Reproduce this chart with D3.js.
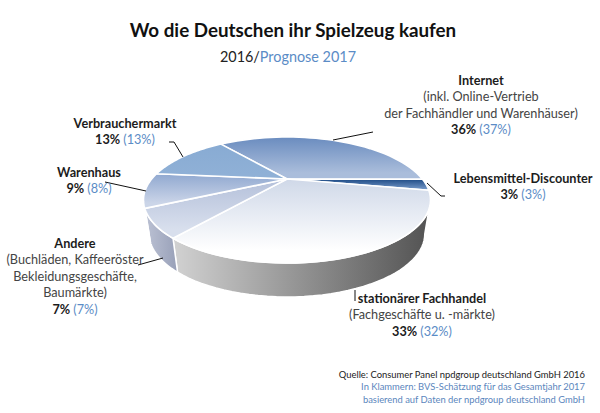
<!DOCTYPE html>
<html><head><meta charset="utf-8">
<script src="https://cdnjs.cloudflare.com/ajax/libs/d3/7.8.5/d3.min.js"></script>
<style>html,body{margin:0;padding:0;background:#fff}svg{display:block}text{font-family:Lato,"Open Sans",sans-serif}</style>
</head><body><svg id="c" width="600" height="413"></svg>
<script>
const categories = ["Internet","Lebensmittel-Discounter","stationärer Fachhandel","Andere","Warenhaus","Verbrauchermarkt"];
const values2016 = [36,3,33,7,9,13];
const values2017 = [37,3,32,7,8,13];
const topColors = [["#6a8cbf","#aabddb"],["#1d4a85","#6f93c3"],["#cfd8e8","#ffffff"],["#b4c0da","#d8dfed"],["#90a8d0","#cbd5e8"],["#88abd3","#8fb0d6"]];
const wallColors = [["#777","#777"],["#777","#777"],["#d2d2d2","#525252"],["#bcc2d4","#98a0b8"],["#98a0b8","#98a0b8"],["#999","#999"]];
const labelNotes = [["(inkl. Online-Vertrieb","der Fachhändler und Warenhäuser)"],[],["(Fachgeschäfte u. -märkte)"],["(Buchläden, Kaffeeröster","Bekleidungsgeschäfte,","Baumärkte)"],[],[]];
const labelPlace = [[481,85],[523,183],[422,303],[75,248],[89,177],[125,128]];
const leaders = [
 [[333,140],[373,132]],
 [[427,183],[441,196],[445,196]],
 [[355,290],[355,301]],
 [[163,258],[138,265]],
 [[146,191],[105,182]],
 [[183,157],[174,142],[169,142]]
];
const sourceLines = [["Quelle: Consumer Panel npdgroup deutschland GmbH 2016","#222"],["In Klammern: BVS-Schätzung für das Gesamtjahr 2017","#5b86bd"],["basierend auf Daten der npdgroup deutschland GmbH","#5b86bd"]];

const svg = d3.select("#c"), defs = svg.append("defs");
const BLUE="#5b8cc6", INK="#1c1c1c", NOTE="#444";
const tip=[287,179], Rx=135.3, Ry=56, k=1/3, depth=34, shrink=.96, toRad=Math.PI/180;
const project=(a)=>{const x=Math.sin(a),y=-Math.cos(a),w=1-k*y;return [tip[0]+Rx*x/w,tip[1]+Ry*y/w];};
const base=(a)=>{const p=project(a);return [tip[0]+(p[0]-tip[0])*shrink,p[1]+depth];};
const arcPts=(f,a0,a1)=>d3.range(0,41).map(i=>f(a0+(a1-a0)*i/40));
const line=d3.line();
const pie=d3.pie().sort(null).startAngle(-38.1*toRad).endAngle((360-38.1)*toRad);
const slices=pie(values2016);
const lim=[109.5*toRad,250.5*toRad];

function grad(id,c,x1,y1,x2,y2){
  const g=defs.append("linearGradient").attr("id",id).attr("gradientUnits","userSpaceOnUse")
   .attr("x1",x1).attr("y1",y1).attr("x2",x2).attr("y2",y2);
  g.append("stop").attr("offset",0).attr("stop-color",c[0]);
  g.append("stop").attr("offset",1).attr("stop-color",c[1]);
}
// walls
slices.forEach((s,i)=>{
  const a0=Math.max(s.startAngle,lim[0]),a1=Math.min(s.endAngle,lim[1]);
  if(a1<=a0) return;
  const t=arcPts(project,a0,a1),b=arcPts(base,a0,a1).reverse();
  const xs=t.concat(b).map(p=>p[0]);
  grad("w"+i,wallColors[i],d3.min(xs),0,d3.max(xs),0);
  svg.append("path").attr("d",line(t.concat(b))+"Z").attr("fill",`url(#w${i})`).attr("stroke","#fff").attr("stroke-width",1.5).attr("stroke-linejoin","round");
});
// tops
slices.forEach((s,i)=>{
  const pts=arcPts(project,s.startAngle,s.endAngle);
  const ys=pts.map(p=>p[1]).concat(tip[1]);
  const y0=d3.min(ys),y1=d3.max(ys);
  grad("t"+i,topColors[i],0,y0,0,y0+(y1-y0)*.85);
  svg.append("path").attr("d",line([tip,...pts])+"Z").attr("fill",`url(#t${i})`).attr("stroke","#fff").attr("stroke-width",1.6).attr("stroke-linejoin","round");
});
// leaders
svg.selectAll("path.lead").data(leaders).join("path").attr("class","lead").attr("d",d=>line(d)).attr("fill","none").attr("stroke","#111").attr("stroke-width",1);
// labels
const lh=16.4, fs=12.7;
categories.forEach((c,i)=>{
  const [x,y0]=labelPlace[i];
  const g=svg.append("g").attr("font-size",fs).attr("text-anchor","middle");
  g.append("text").attr("x",x).attr("y",y0).attr("font-weight",700).attr("fill",INK).text(c);
  labelNotes[i].forEach((n,j)=>g.append("text").attr("x",x).attr("y",y0+lh*(j+1)).attr("fill",NOTE).text(n));
  const t=g.append("text").attr("x",x).attr("y",y0+lh*(labelNotes[i].length+1));
  t.append("tspan").attr("font-weight",700).attr("fill",INK).text(values2016[i]+"% ");
  t.append("tspan").attr("fill",BLUE).text(`(${values2017[i]}%)`);
});
// title
svg.append("text").attr("x",293).attr("y",37).attr("text-anchor","middle").attr("font-size",18.8).attr("font-weight",700).attr("fill","#111").text("Wo die Deutschen ihr Spielzeug kaufen");
const st=svg.append("text").attr("x",288).attr("y",62).attr("text-anchor","middle").attr("font-size",14.4);
st.append("tspan").attr("fill","#222").text("2016/");
st.append("tspan").attr("fill",BLUE).text("Prognose 2017");
// source
svg.selectAll("text.src").data(sourceLines).join("text").attr("class","src").attr("x",585).attr("y",(d,i)=>378+i*12.4).attr("text-anchor","end").attr("font-size",9.4).attr("fill",d=>d[1]).text(d=>d[0]);
</script></body></html>
